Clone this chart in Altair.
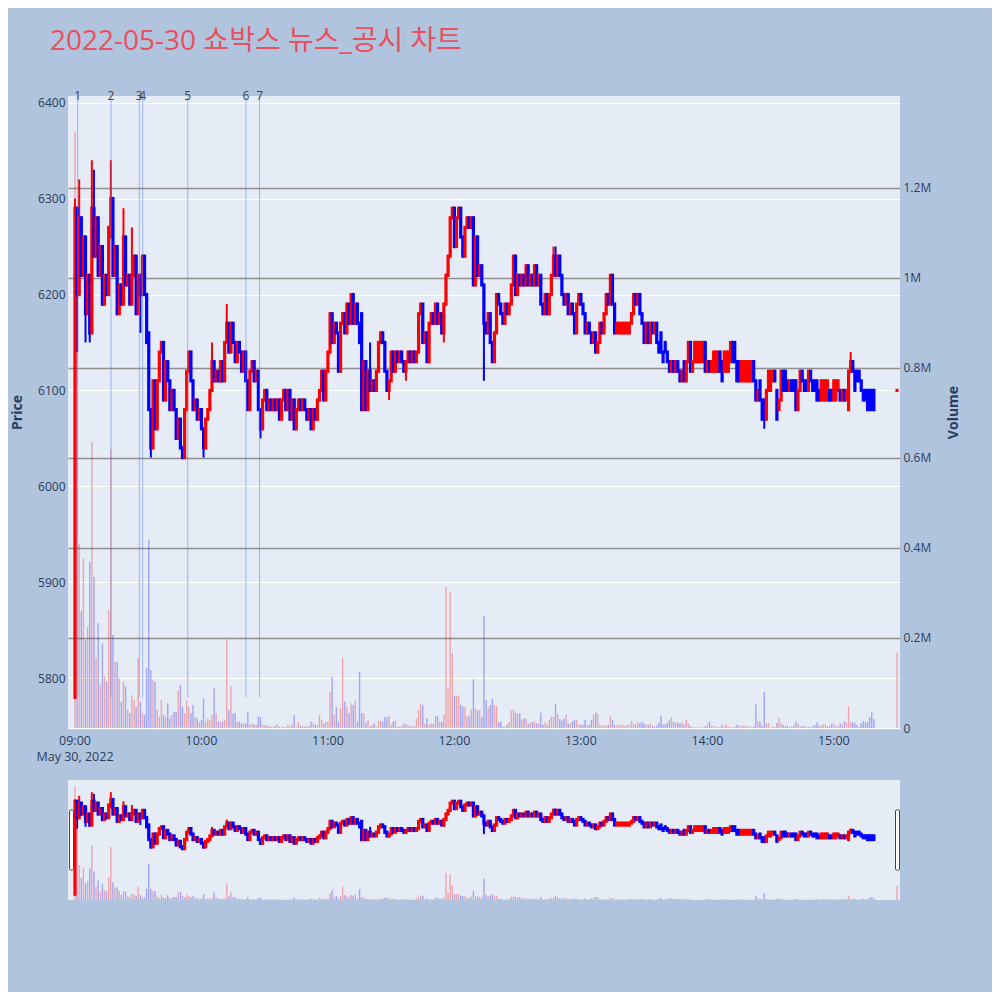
import altair as alt
import pandas as pd

TITLE = "2022-05-30 쇼박스 뉴스_공시 차트"
START = "2022-05-30T09:00:00"
CLOSE_AUCTION_TIME = "2022-05-30T15:30:00"
DATE_LABEL_TIME = ["2022-05-30T09:00:00"]
DATE_LABEL_TEXT = ["May 30, 2022"]
TIME_TICKS = ["2022-05-30T09:00:00", "2022-05-30T10:00:00", "2022-05-30T11:00:00",
              "2022-05-30T12:00:00", "2022-05-30T13:00:00", "2022-05-30T14:00:00",
              "2022-05-30T15:00:00"]

# one-minute candles from 09:00, prices in units of 10 won
OPEN_10 = [
    578, 629, 620, 628, 622, 626, 618, 622, 616, 629,
    624, 628, 622, 625, 619, 622, 620, 626, 630, 622,
    625, 618, 621, 619, 626, 621, 622, 619, 622, 624,
    618, 622, 620, 624, 620, 616, 608, 604, 611, 606,
    611, 614, 615, 609, 613, 611, 608, 610, 608, 605,
    607, 604, 603, 608, 612, 614, 611, 608, 609, 607,
    608, 606, 604, 607, 608, 610, 613, 611, 612, 611,
    613, 611, 615, 617, 614, 617, 615, 613, 615, 614,
    612, 614, 611, 608, 612, 613, 611, 612, 608, 606,
    609, 610, 608, 609, 608, 609, 608, 609, 607, 609,
    610, 608, 610, 607, 609, 606, 608, 609, 608, 609,
    608, 607, 608, 606, 608, 607, 609, 610, 612, 609,
    612, 614, 618, 615, 617, 616, 612, 617, 618, 616,
    619, 617, 620, 617, 619, 617, 618, 608, 613, 608,
    612, 610, 611, 610, 612, 615, 616, 615, 612, 610,
    611, 614, 612, 614, 613, 614, 613, 612, 613, 614,
    613, 614, 613, 614, 618, 619, 615, 616, 613, 617,
    618, 617, 619, 617, 618, 616, 619, 622, 624, 628,
    629, 625, 628, 629, 626, 624, 627, 628, 627, 628,
    621, 626, 622, 623, 621, 617, 616, 618, 615, 613,
    616, 620, 619, 618, 617, 619, 618, 619, 621, 624,
    620, 622, 621, 622, 621, 623, 621, 622, 621, 623,
    621, 622, 619, 618, 620, 618, 620, 622, 624, 622,
    624, 622, 620, 619, 620, 618, 619, 618, 616, 619,
    620, 619, 618, 616, 617, 616, 615, 616, 614, 615,
    617, 616, 618, 620, 619, 622, 619, 616, 616, 616,
    616, 616, 616, 616, 617, 618, 620, 619, 620, 618,
    617, 615, 617, 615, 617, 616, 617, 615, 616, 614,
    615, 614, 613, 612, 613, 612, 613, 612, 611, 613,
    611, 613, 615, 612, 613, 613, 613, 613, 613, 615,
    612, 613, 612, 612, 612, 612, 614, 613, 612, 612,
    612, 613, 615, 615, 613, 613, 611, 611, 611, 611,
    611, 611, 613, 611, 609, 611, 609, 609, 607, 610,
    610, 611, 612, 610, 608, 609, 612, 612, 611, 610,
    611, 611, 611, 608, 610, 612, 611, 611, 610, 612,
    611, 611, 611, 610, 609, 609, 609, 609, 610, 610,
    609, 609, 610, 610, 609, 610, 609, 608, 612, 613,
    612, 612, 612, 611, 610, 610, 610, 610, 610, 610,
]
CLOSE_10 = [
    629, 620, 628, 622, 626, 618, 622, 616, 629, 624,
    628, 622, 625, 619, 622, 620, 627, 630, 622, 625,
    618, 621, 619, 626, 621, 622, 619, 622, 624, 618,
    622, 620, 624, 620, 615, 608, 604, 611, 606, 611,
    614, 615, 609, 613, 611, 608, 610, 608, 605, 607,
    604, 603, 608, 612, 614, 611, 608, 609, 607, 608,
    606, 604, 607, 608, 610, 613, 611, 612, 611, 613,
    611, 615, 617, 614, 617, 615, 613, 615, 614, 612,
    614, 611, 608, 612, 613, 611, 612, 608, 606, 609,
    610, 608, 609, 608, 609, 608, 609, 607, 609, 610,
    608, 610, 607, 609, 606, 608, 609, 608, 609, 608,
    607, 608, 606, 608, 607, 609, 610, 612, 609, 612,
    614, 618, 615, 617, 616, 612, 617, 618, 616, 619,
    617, 620, 617, 619, 617, 615, 608, 613, 608, 612,
    610, 611, 610, 612, 615, 616, 615, 612, 610, 611,
    614, 612, 614, 613, 614, 613, 612, 613, 614, 613,
    614, 613, 614, 618, 619, 615, 616, 613, 617, 618,
    617, 619, 617, 618, 616, 619, 622, 624, 628, 629,
    625, 628, 629, 626, 624, 627, 628, 627, 628, 621,
    626, 622, 623, 621, 617, 616, 618, 615, 613, 616,
    620, 619, 618, 617, 619, 618, 619, 621, 624, 620,
    622, 621, 622, 621, 623, 621, 622, 621, 623, 621,
    622, 619, 618, 620, 618, 620, 622, 624, 622, 624,
    622, 620, 619, 620, 618, 619, 618, 616, 619, 620,
    619, 618, 616, 617, 616, 615, 616, 614, 615, 617,
    616, 618, 620, 619, 622, 619, 616, 617, 617, 617,
    617, 617, 617, 617, 618, 620, 619, 620, 618, 617,
    615, 617, 615, 617, 616, 617, 615, 614, 614, 613,
    614, 613, 612, 613, 612, 613, 612, 611, 612, 611,
    613, 615, 612, 613, 615, 615, 615, 615, 615, 612,
    613, 612, 613, 614, 614, 614, 612, 611, 614, 614,
    614, 615, 613, 613, 611, 611, 613, 613, 613, 613,
    613, 613, 611, 609, 610, 609, 607, 607, 610, 612,
    612, 612, 611, 607, 609, 612, 610, 610, 610, 611,
    610, 610, 608, 610, 612, 611, 610, 610, 612, 611,
    610, 610, 609, 609, 611, 611, 611, 611, 609, 609,
    611, 611, 611, 609, 610, 609, 610, 612, 613, 612,
    610, 611, 611, 610, 609, 609, 608, 608, 608, 608,
]
# wick extremes beyond the candle body (minute index -> price / 10)
WICK_HIGH_10 = {0: 630, 2: 632, 8: 634, 9: 633, 17: 634, 23: 629, 27: 627,
                41: 615, 65: 615, 72: 619, 140: 615, 227: 625, 228: 625, 368: 614}
WICK_LOW_10 = {1: 614, 5: 615, 7: 615, 31: 616, 36: 603, 61: 603, 88: 605,
               104: 606, 112: 606, 136: 608, 149: 609, 157: 611, 175: 615,
               194: 611, 198: 613, 327: 606}
# volume per minute, thousands of shares
VOLUME_K = [
    1325, 850, 410, 260, 377, 196, 225, 370, 636, 336,
    155, 233, 96, 188, 114, 103, 262, 620, 207, 147,
    147, 110, 58, 103, 92, 40, 33, 73, 62, 47,
    155, 58, 33, 29, 133, 418, 129, 107, 103, 40,
    25, 62, 29, 25, 55, 21, 29, 36, 36, 84,
    96, 47, 33, 62, 47, 33, 51, 25, 21, 14,
    18, 66, 14, 21, 18, 29, 88, 33, 14, 14,
    14, 18, 196, 40, 92, 33, 33, 14, 14, 10,
    10, 10, 36, 7, 10, 7, 7, 25, 25, 7,
    7, 5, 5, 3, 3, 5, 9, 3, 3, 3,
    2, 9, 3, 9, 29, 3, 14, 5, 5, 3,
    3, 5, 14, 10, 7, 7, 29, 18, 10, 14,
    14, 80, 114, 29, 47, 14, 44, 155, 59, 47,
    33, 55, 51, 62, 14, 125, 33, 33, 12, 18,
    4, 7, 10, 3, 16, 16, 14, 25, 24, 27,
    7, 14, 16, 3, 3, 4, 10, 9, 7, 4,
    4, 3, 21, 40, 55, 51, 9, 21, 7, 10,
    9, 27, 27, 14, 14, 30, 314, 88, 303, 166,
    71, 71, 73, 51, 47, 47, 25, 27, 41, 108,
    44, 39, 40, 25, 249, 62, 44, 51, 64, 51,
    49, 12, 14, 3, 3, 7, 14, 39, 41, 34,
    33, 32, 19, 21, 21, 10, 12, 14, 14, 10,
    10, 34, 7, 12, 7, 18, 25, 25, 53, 31,
    20, 16, 21, 30, 10, 10, 14, 18, 18, 7,
    7, 7, 18, 7, 7, 18, 29, 34, 33, 7,
    5, 5, 5, 7, 27, 18, 7, 6, 7, 6,
    6, 5, 7, 7, 16, 10, 7, 14, 10, 14,
    10, 7, 7, 10, 4, 4, 5, 11, 27, 7,
    8, 11, 18, 24, 13, 13, 12, 10, 13, 8,
    18, 10, 4, 2, 2, 1, 1, 2, 1, 4,
    8, 14, 5, 5, 4, 2, 2, 8, 4, 8,
    4, 2, 2, 2, 7, 4, 5, 5, 5, 4,
    4, 2, 4, 53, 16, 15, 5, 80, 10, 11,
    2, 4, 2, 11, 22, 11, 7, 4, 5, 2,
    2, 5, 14, 10, 5, 4, 4, 2, 4, 2,
    4, 6, 12, 5, 5, 8, 8, 5, 5, 10,
    10, 5, 4, 10, 8, 15, 12, 48, 13, 13,
    11, 7, 2, 11, 15, 13, 13, 24, 35, 20,
]
# 15:30 closing single-price auction
FINAL_OPEN_10 = 610
FINAL_CLOSE_10 = 610
FINAL_VOLUME_K = 167

NEWS_TIMES = ["2022-05-30T09:01:17", "2022-05-30T09:17:05", "2022-05-30T09:30:30",
              "2022-05-30T09:32:06", "2022-05-30T09:53:30", "2022-05-30T10:21:06",
              "2022-05-30T10:27:36"]
NEWS_LABELS = ["1", "2", "3", "4", "5", "6", "7"]
NEWS_LINE_FROM = 5780

PRICE_TICKS = [5800, 5900, 6000, 6100, 6200, 6300, 6400]
PRICE_DOMAIN = [5748, 6407]
VOLUME_TICKS = [0, 200000, 400000, 600000, 800000, 1000000, 1200000]
VOLUME_DOMAIN = [0, 1404000]

FONT = "Open Sans, Noto Sans CJK KR, sans-serif"
TEXT_COL = "#2a3f5f"
UP_COL = "#ff0000"
DOWN_COL = "#0000ff"

# ---------- table ----------
times = pd.date_range(START, periods=len(CLOSE_10), freq="min").strftime("%Y-%m-%dT%H:%M:%S").tolist()
times.append(CLOSE_AUCTION_TIME)
opens = [v * 10 for v in OPEN_10 + [FINAL_OPEN_10]]
closes = [v * 10 for v in CLOSE_10 + [FINAL_CLOSE_10]]
vols = [v * 1000 for v in VOLUME_K + [FINAL_VOLUME_K]]
highs, lows, cols = [], [], []
for i, (o, c) in enumerate(zip(opens, closes)):
    hi = max(o, c)
    lo = min(o, c)
    if i in WICK_HIGH_10:
        hi = max(hi, WICK_HIGH_10[i] * 10)
    if i in WICK_LOW_10:
        lo = min(lo, WICK_LOW_10[i] * 10)
    highs.append(hi)
    lows.append(lo)
    cols.append(UP_COL if c >= o else DOWN_COL)
df = pd.DataFrame({"t": times, "open": opens, "high": highs, "low": lows,
                   "close": closes, "volume": vols, "col": cols})
news = pd.DataFrame({"t": NEWS_TIMES, "label": NEWS_LABELS, "from": [NEWS_LINE_FROM] * len(NEWS_TIMES)})
date_lbl = pd.DataFrame({"t": DATE_LABEL_TIME, "label": DATE_LABEL_TEXT})
ticks_df = pd.DataFrame({"t": TIME_TICKS})
one = pd.DataFrame({"k": [0]})

W, H = 832, 632
SL_TOP, SL_BOT = 684, 804

X_DOMAIN = [alt.DateTime(year=2022, month=5, date=30, hours=8, minutes=56, seconds=41),
            alt.DateTime(year=2022, month=5, date=30, hours=15, minutes=31, seconds=24)]
x_scale = alt.Scale(domain=X_DOMAIN, padding=0)
x_plain = alt.X("t:T", scale=x_scale, axis=None, title=None)


def price_scale():
    return alt.Scale(domain=PRICE_DOMAIN, nice=False, zero=False)


price_axis = alt.Axis(values=PRICE_TICKS, format="d", ticks=False, domain=False, grid=True,
                      gridColor="white", gridWidth=1, labelPadding=3, labelOverlap=False,
                      title="Price", titleX=-51, titleY=H / 2, titleAngle=270,
                      titleAlign="center", titleBaseline="middle", titleFontWeight="bold")
vol_axis = alt.Axis(orient="right", values=VOLUME_TICKS,
                    labelExpr="datum.value == 0 ? '0' : format(datum.value / 1000000, '.2~f') + 'M'",
                    ticks=False, domain=False, grid=True,
                    gridColor={"condition": {"test": "datum.value == 0", "value": "white"}, "value": "#8f8f8f"},
                    gridWidth=1.3, labelPadding=3, labelOverlap=False,
                    title="Volume", titleX=53, titleY=H / 2, titleAngle=270,
                    titleAlign="center", titleBaseline="middle", titleFontWeight="bold")
color = alt.Color("col:N", scale=None)

base = alt.Chart(df)

# main panel: volume first (below candles), then candles, news markers
volume = base.mark_bar(size=1.4, opacity=0.3).encode(
    x=x_plain,
    y=alt.Y("volume:Q", scale=alt.Scale(domain=VOLUME_DOMAIN, nice=False), axis=vol_axis, title="Volume"),
    color=color)
wick = base.mark_rule(strokeWidth=2).encode(
    x=x_plain, y=alt.Y("low:Q", scale=price_scale(), axis=price_axis, title="Price"),
    y2="high:Q", color=color)
body = base.mark_rule(strokeWidth=3.2, strokeCap="square").encode(
    x=x_plain, y=alt.Y("open:Q", scale=price_scale(), axis=None),
    y2="close:Q", color=color)
news_rule = alt.Chart(news).mark_rule(color="#5f80e0", strokeOpacity=0.55, strokeWidth=1).encode(
    x=x_plain, y=alt.Y("from:Q", scale=price_scale(), axis=None), y2=alt.value(0))
news_text = alt.Chart(news).mark_text(baseline="middle", align="center", fontSize=12,
                                      color="#444444", font=FONT).encode(
    x=x_plain, y=alt.value(0), text="label:N")
# time-axis labels placed through the shared time scale
tick_text = alt.Chart(ticks_df).mark_text(baseline="middle", align="center", fontSize=12.5,
                                          color=TEXT_COL, font=FONT).encode(
    x=x_plain, y=alt.value(H + 13), text=alt.Text("t:T", format="%H:%M"))
date_text = alt.Chart(date_lbl).mark_text(baseline="middle", align="center", fontSize=12.5,
                                          color=TEXT_COL, font=FONT).encode(
    x=x_plain, y=alt.value(H + 29), text="label:N")

# range slider below the chart
slider_bg = alt.Chart(one).mark_rect(color="#e5ecf6").encode(
    x=alt.value(0), x2=alt.value(W), y=alt.value(SL_TOP), y2=alt.value(SL_BOT))


def mini_price_scale():
    return alt.Scale(domain=PRICE_DOMAIN, range=[SL_BOT, SL_TOP], nice=False, zero=False)


mini_vol = base.mark_bar(size=1.4, opacity=0.3).encode(
    x=x_plain,
    y=alt.Y("volume:Q", scale=alt.Scale(domain=VOLUME_DOMAIN, range=[SL_BOT, SL_TOP], nice=False), axis=None),
    color=color)
mini_wick = base.mark_rule(strokeWidth=2).encode(
    x=x_plain, y=alt.Y("low:Q", scale=mini_price_scale(), axis=None), y2="high:Q", color=color)
mini_body = base.mark_rule(strokeWidth=3.2, strokeCap="square").encode(
    x=x_plain, y=alt.Y("open:Q", scale=mini_price_scale(), axis=None), y2="close:Q", color=color)
handle_l = alt.Chart(one).mark_rect(fill="white", stroke="#444444", strokeWidth=1, cornerRadius=1).encode(
    x=alt.value(1.5), x2=alt.value(5.5), y=alt.value(714), y2=alt.value(774))
handle_r = alt.Chart(one).mark_rect(fill="white", stroke="#444444", strokeWidth=1, cornerRadius=1).encode(
    x=alt.value(827.5), x2=alt.value(831.5), y=alt.value(714), y2=alt.value(774))

chart = alt.layer(
    volume, wick, body, news_rule, news_text, tick_text, date_text,
    slider_bg, mini_vol, mini_wick, mini_body, handle_l, handle_r
).resolve_scale(y="independent").properties(
    width=W, height=H,
    autosize=alt.AutoSizeParams(type="none"),
    padding={"left": 60, "top": 88, "right": 92, "bottom": 264},
    background="#b0c4de",
    title=alt.TitleParams(TITLE, anchor="start", frame="group", dx=-18, offset=34,
                          fontSize=28, fontWeight="normal", color="#e8505f", font=FONT),
).configure_view(
    fill="#e5ecf6", stroke=None
).configure_axis(
    labelFont=FONT, titleFont=FONT, labelColor=TEXT_COL, titleColor=TEXT_COL,
    labelFontSize=12, titleFontSize=14,
)

chart.save("out.html", embed_options={"renderer": "svg", "actions": False})
